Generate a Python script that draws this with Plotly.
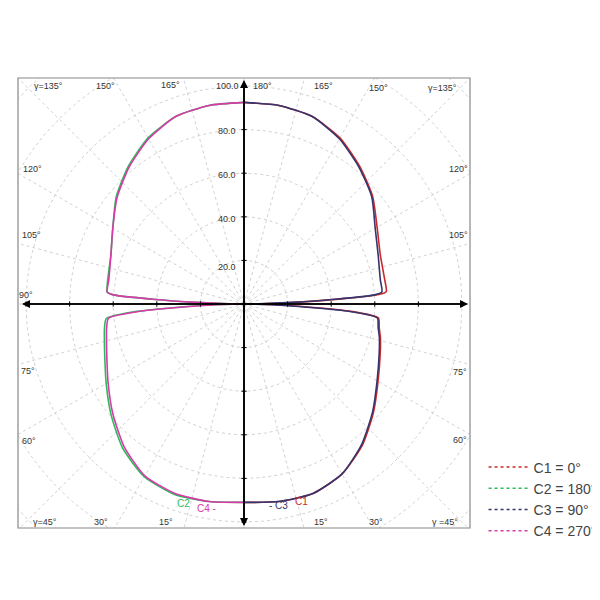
import numpy as np
import plotly.graph_objects as go

# gamma angles (deg from nadir) and relative intensity (%)
gamma = [0, 10, 20, 30, 40, 50, 60, 70, 76, 80, 84, 86, 88, 89, 90, 91, 92, 93, 94, 95, 100, 110, 120, 130, 140, 150, 160, 170, 180]
c1 = [91, 92, 92.5, 90, 84.5, 77.5, 71, 66.5, 64.5, 63, 62, 50, 20, 6, 0, 8, 25, 45, 62, 65.5, 65.5, 66.5, 70.5, 77, 82.5, 88, 91.5, 92.5, 92.5]
c2 = [91, 92, 93, 91.5, 86.5, 79.5, 73, 68, 66, 65, 63.5, 50, 20, 6, 0, 7, 22, 42, 60, 63, 63.5, 65, 69.5, 76.5, 82.5, 88, 91.5, 92.5, 92.5]
c3 = [91, 92, 92.5, 90, 84, 77, 70.5, 66, 64, 62.5, 61.5, 48, 19, 5, 0, 7, 22, 42, 60, 63.5, 63.5, 65.5, 69.5, 76.5, 82, 87.5, 91.5, 92.5, 92.5]
c4 = [91, 92, 92.5, 91, 85.5, 78.5, 72, 67, 65, 64, 62.5, 48, 19, 5, 0, 7, 22, 42, 60, 63, 63, 65, 69.5, 76, 82, 87.5, 91.5, 92.5, 92.5]
series = [("C1 = 0°", c1, "#cc2a2a", 1), ("C2 = 180°", c2, "#2bbb5a", -1),
          ("C3 = 90°", c3, "#34356e", 1), ("C4 = 270°", c4, "#d83aa8", -1)]
radial_ticks = [20, 40, 60, 80, 100]

S = 2.18
def px(x): return (x - 236) / S
def py(y): return (296 - y) / S

fig = go.Figure()
g = np.radians(gamma)
t = np.linspace(0, 2*np.pi, 361)
for r in range(20, 160, 20):
    fig.add_trace(go.Scatter(x=r*np.cos(t), y=r*np.sin(t), mode="lines",
                             line=dict(color="#d2d2d2", width=1, dash="dot"), hoverinfo="skip", showlegend=False))
for a in range(0, 360, 15):
    ar = np.radians(a)
    fig.add_trace(go.Scatter(x=[0, 200*np.cos(ar)], y=[0, 200*np.sin(ar)], mode="lines",
                             line=dict(color="#d2d2d2", width=1, dash="dot"), hoverinfo="skip", showlegend=False))
for name, r, col, side in series:
    r = np.array(r)
    fig.add_trace(go.Scatter(x=side*r*np.sin(g), y=-r*np.cos(g), mode="lines",
                             line=dict(color=col, width=1.6, shape="spline", smoothing=0.6), showlegend=False))
for name, r, col, side in series:
    fig.add_trace(go.Scatter(x=[None], y=[None], mode="lines", name=name,
                             line=dict(color=col, width=1.5, dash="dot")))

fig.update_xaxes(range=[px(10), px(462)], visible=False)
fig.update_yaxes(range=[py(520), py(70)], visible=False)

shapes = [dict(type="rect", xref="paper", yref="paper", x0=0, x1=1, y0=0, y1=1, line=dict(color="#888", width=1.2))]
for v in radial_ticks:
    for s in (1, -1):
        shapes.append(dict(type="line", x0=s*v, x1=s*v, y0=-1.2, y1=1.2, line=dict(color="black", width=1)))
        shapes.append(dict(type="line", y0=s*v, y1=s*v, x0=-1.2, x1=1.2, line=dict(color="black", width=1)))
fig.update_layout(shapes=shapes)

ann = []
def arrow(x, y, ax, ay):
    ann.append(dict(x=x, y=y, ax=ax, ay=ay, xref="x", yref="y", axref="x", ayref="y", text="",
                    showarrow=True, arrowhead=2, arrowwidth=1.6, arrowcolor="black"))
arrow(px(14), 0, px(460), 0)
arrow(px(460), 0, px(14), 0)
arrow(0, py(72), 0, py(518))
arrow(0, py(518), 0, py(72))
labels = [("γ=135°", 40, 78), ("150°", 97, 78), ("165°", 162, 77), ("180°", 254, 78), ("165°", 315, 78), ("150°", 370, 80), ("γ=135°", 434, 80),
          ("120°", 24, 161), ("105°", 23, 227), ("90°", 18, 287), ("75°", 20, 363), ("60°", 21, 433),
          ("120°", 450, 161), ("105°", 450, 227), ("75°", 452, 364), ("60°", 452, 432),
          ("γ=45°", 37, 514), ("30°", 93, 514), ("15°", 158, 514), ("15°", 313, 514), ("30°", 368, 514), ("γ =45°", 437, 514),
          ("γ=0°", 236, 530), ("γ=90°", 479, 297),
          ("100.0", 219, 78), ("80.0", 219, 123), ("60.0", 219, 167), ("40.0", 219, 211), ("20.0", 219, 259)]
for txt, x, y in labels:
    ann.append(dict(x=px(x), y=py(y), text=txt, showarrow=False, xref="x", yref="y",
                    font=dict(family="Arial", size=9, color="#333")))
for txt, x, y, col in [("C2", 175, 495, "#2bbb5a"), ("C4 -", 198, 500, "#d83aa8"), ("- C3", 270, 497, "#34356e"), ("C1", 293, 493, "#cc2a2a")]:
    ann.append(dict(x=px(x), y=py(y), text=txt, showarrow=False, xref="x", yref="y", font=dict(family="Arial", size=10, color=col)))
fig.update_layout(annotations=ann)

fig.update_layout(width=600, height=600, margin=dict(l=10, r=138, t=70, b=80, autoexpand=False),
                  paper_bgcolor="white", plot_bgcolor="white",
                  legend=dict(x=1.03, y=0.17, xanchor="left", yanchor="top", font=dict(family="Arial", size=14, color="#444"),
                              tracegroupgap=0, itemwidth=40))
fig.write_html("out.html")
